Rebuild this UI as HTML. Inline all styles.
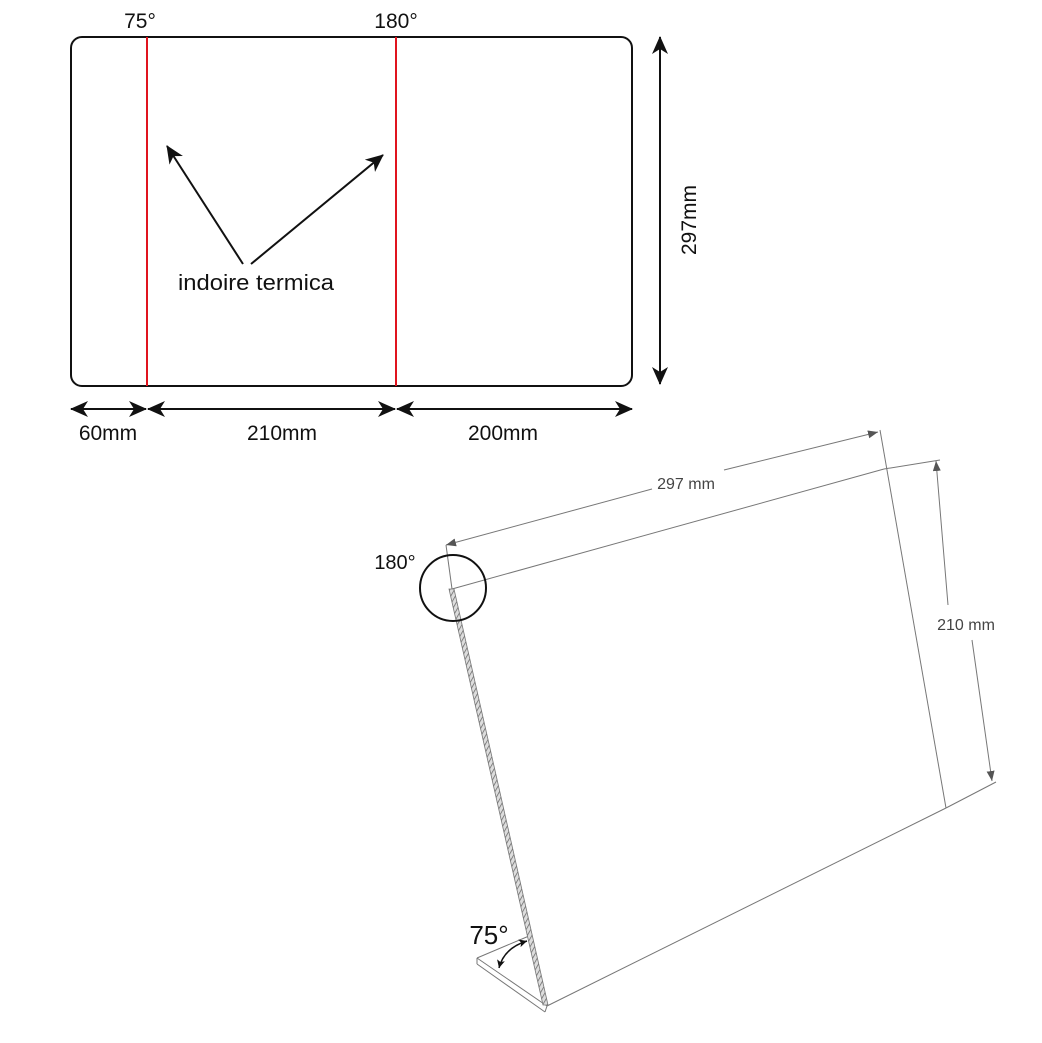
<!DOCTYPE html>
<html><head><meta charset="utf-8"><style>
html,body{margin:0;padding:0;background:#fff;}
svg{display:block;}
</style></head><body>
<svg width="1042" height="1043" viewBox="0 0 1042 1043" xmlns="http://www.w3.org/2000/svg">
<defs>
<marker id="ahs" markerWidth="18" markerHeight="18" refX="17" refY="9" orient="auto-start-reverse" markerUnits="userSpaceOnUse" viewBox="0 0 18 18">
<path d="M0,1 L18,9 L0,17 L5,9 Z" fill="#111"/></marker>
<marker id="ga" markerWidth="10" markerHeight="8" refX="10" refY="4" orient="auto-start-reverse" markerUnits="userSpaceOnUse" viewBox="0 0 10 8">
<path d="M0,0 L10,4 L0,8 Z" fill="#555"/></marker>
<marker id="sa" markerWidth="8" markerHeight="8" refX="8" refY="4" orient="auto-start-reverse" markerUnits="userSpaceOnUse" viewBox="0 0 8 8">
<path d="M0,0 L8,4 L0,8 L2,4 Z" fill="#111"/></marker>
<pattern id="hatch" width="4" height="4" patternUnits="userSpaceOnUse" patternTransform="rotate(30)">
<rect width="4" height="4" fill="#ddd"/><line x1="0" y1="0" x2="0" y2="4" stroke="#666" stroke-width="1.5"/></pattern>
</defs>
<g font-family="Liberation Sans, sans-serif" fill="#111">
<rect x="71" y="37" width="561" height="349" rx="11" fill="none" stroke="#111" stroke-width="2"/>
<line x1="147" y1="37" x2="147" y2="386" stroke="#e0141e" stroke-width="2"/>
<line x1="396" y1="37" x2="396" y2="386" stroke="#e0141e" stroke-width="2"/>
<text x="140" y="28" font-size="21" text-anchor="middle">75°</text>
<text x="396" y="28" font-size="21" text-anchor="middle">180°</text>
<line x1="243" y1="264" x2="167" y2="146" stroke="#111" stroke-width="2" marker-end="url(#ahs)"/>
<line x1="251" y1="264" x2="383" y2="155" stroke="#111" stroke-width="2" marker-end="url(#ahs)"/>
<text x="256" y="290" font-size="22" text-anchor="middle" textLength="156" lengthAdjust="spacingAndGlyphs">indoire termica</text>
<line x1="660" y1="37" x2="660" y2="384" stroke="#111" stroke-width="2" marker-start="url(#ahs)" marker-end="url(#ahs)"/>
<text transform="translate(696,220) rotate(-90)" font-size="21" text-anchor="middle">297mm</text>
<line x1="71" y1="409" x2="146" y2="409" stroke="#111" stroke-width="2" marker-start="url(#ahs)" marker-end="url(#ahs)"/>
<line x1="148" y1="409" x2="395" y2="409" stroke="#111" stroke-width="2" marker-start="url(#ahs)" marker-end="url(#ahs)"/>
<line x1="397" y1="409" x2="632" y2="409" stroke="#111" stroke-width="2" marker-start="url(#ahs)" marker-end="url(#ahs)"/>
<text x="108" y="440" font-size="21" text-anchor="middle">60mm</text>
<text x="282" y="440" font-size="21" text-anchor="middle">210mm</text>
<text x="503" y="440" font-size="21" text-anchor="middle">200mm</text>

<g stroke="#777" stroke-width="1" fill="none">
<line x1="452" y1="589" x2="884" y2="469"/>
<line x1="880" y1="430" x2="946" y2="808"/>
<line x1="946" y1="808" x2="547" y2="1006"/>
<line x1="446" y1="545" x2="452" y2="589"/>
<line x1="884" y1="469" x2="940" y2="460"/>
<line x1="946" y1="808" x2="996" y2="782"/>
<line x1="477" y1="958" x2="547" y2="1006"/>
<line x1="477" y1="958" x2="477" y2="964"/>
<line x1="477" y1="964" x2="545" y2="1012"/>
<line x1="545" y1="1012" x2="547" y2="1006"/>
<line x1="477" y1="958" x2="529" y2="936"/>
</g>
<line x1="446" y1="545" x2="652" y2="489" stroke="#777" stroke-width="1" marker-start="url(#ga)"/>
<line x1="724" y1="470" x2="878" y2="432" stroke="#777" stroke-width="1" marker-end="url(#ga)"/>
<line x1="936" y1="461" x2="948" y2="605" stroke="#777" stroke-width="1" marker-start="url(#ga)"/>
<line x1="972" y1="640" x2="992" y2="781" stroke="#777" stroke-width="1" marker-end="url(#ga)"/>
<polygon points="449,589 454,589 548,1005 543,1005" fill="url(#hatch)" stroke="#777" stroke-width="0.8"/>
<text x="686" y="489" font-size="16" fill="#444" text-anchor="middle">297 mm</text>
<text x="966" y="630" font-size="16" fill="#444" text-anchor="middle">210 mm</text>
<circle cx="453" cy="588" r="33" fill="none" stroke="#111" stroke-width="2"/>
<text x="395" y="569" font-size="20" text-anchor="middle">180°</text>
<text x="489" y="944" font-size="26" text-anchor="middle">75°</text>
<path d="M499,968 Q504,948 527,941" fill="none" stroke="#111" stroke-width="1.5" marker-start="url(#sa)" marker-end="url(#sa)"/>
</g>
</svg>
</body></html>
